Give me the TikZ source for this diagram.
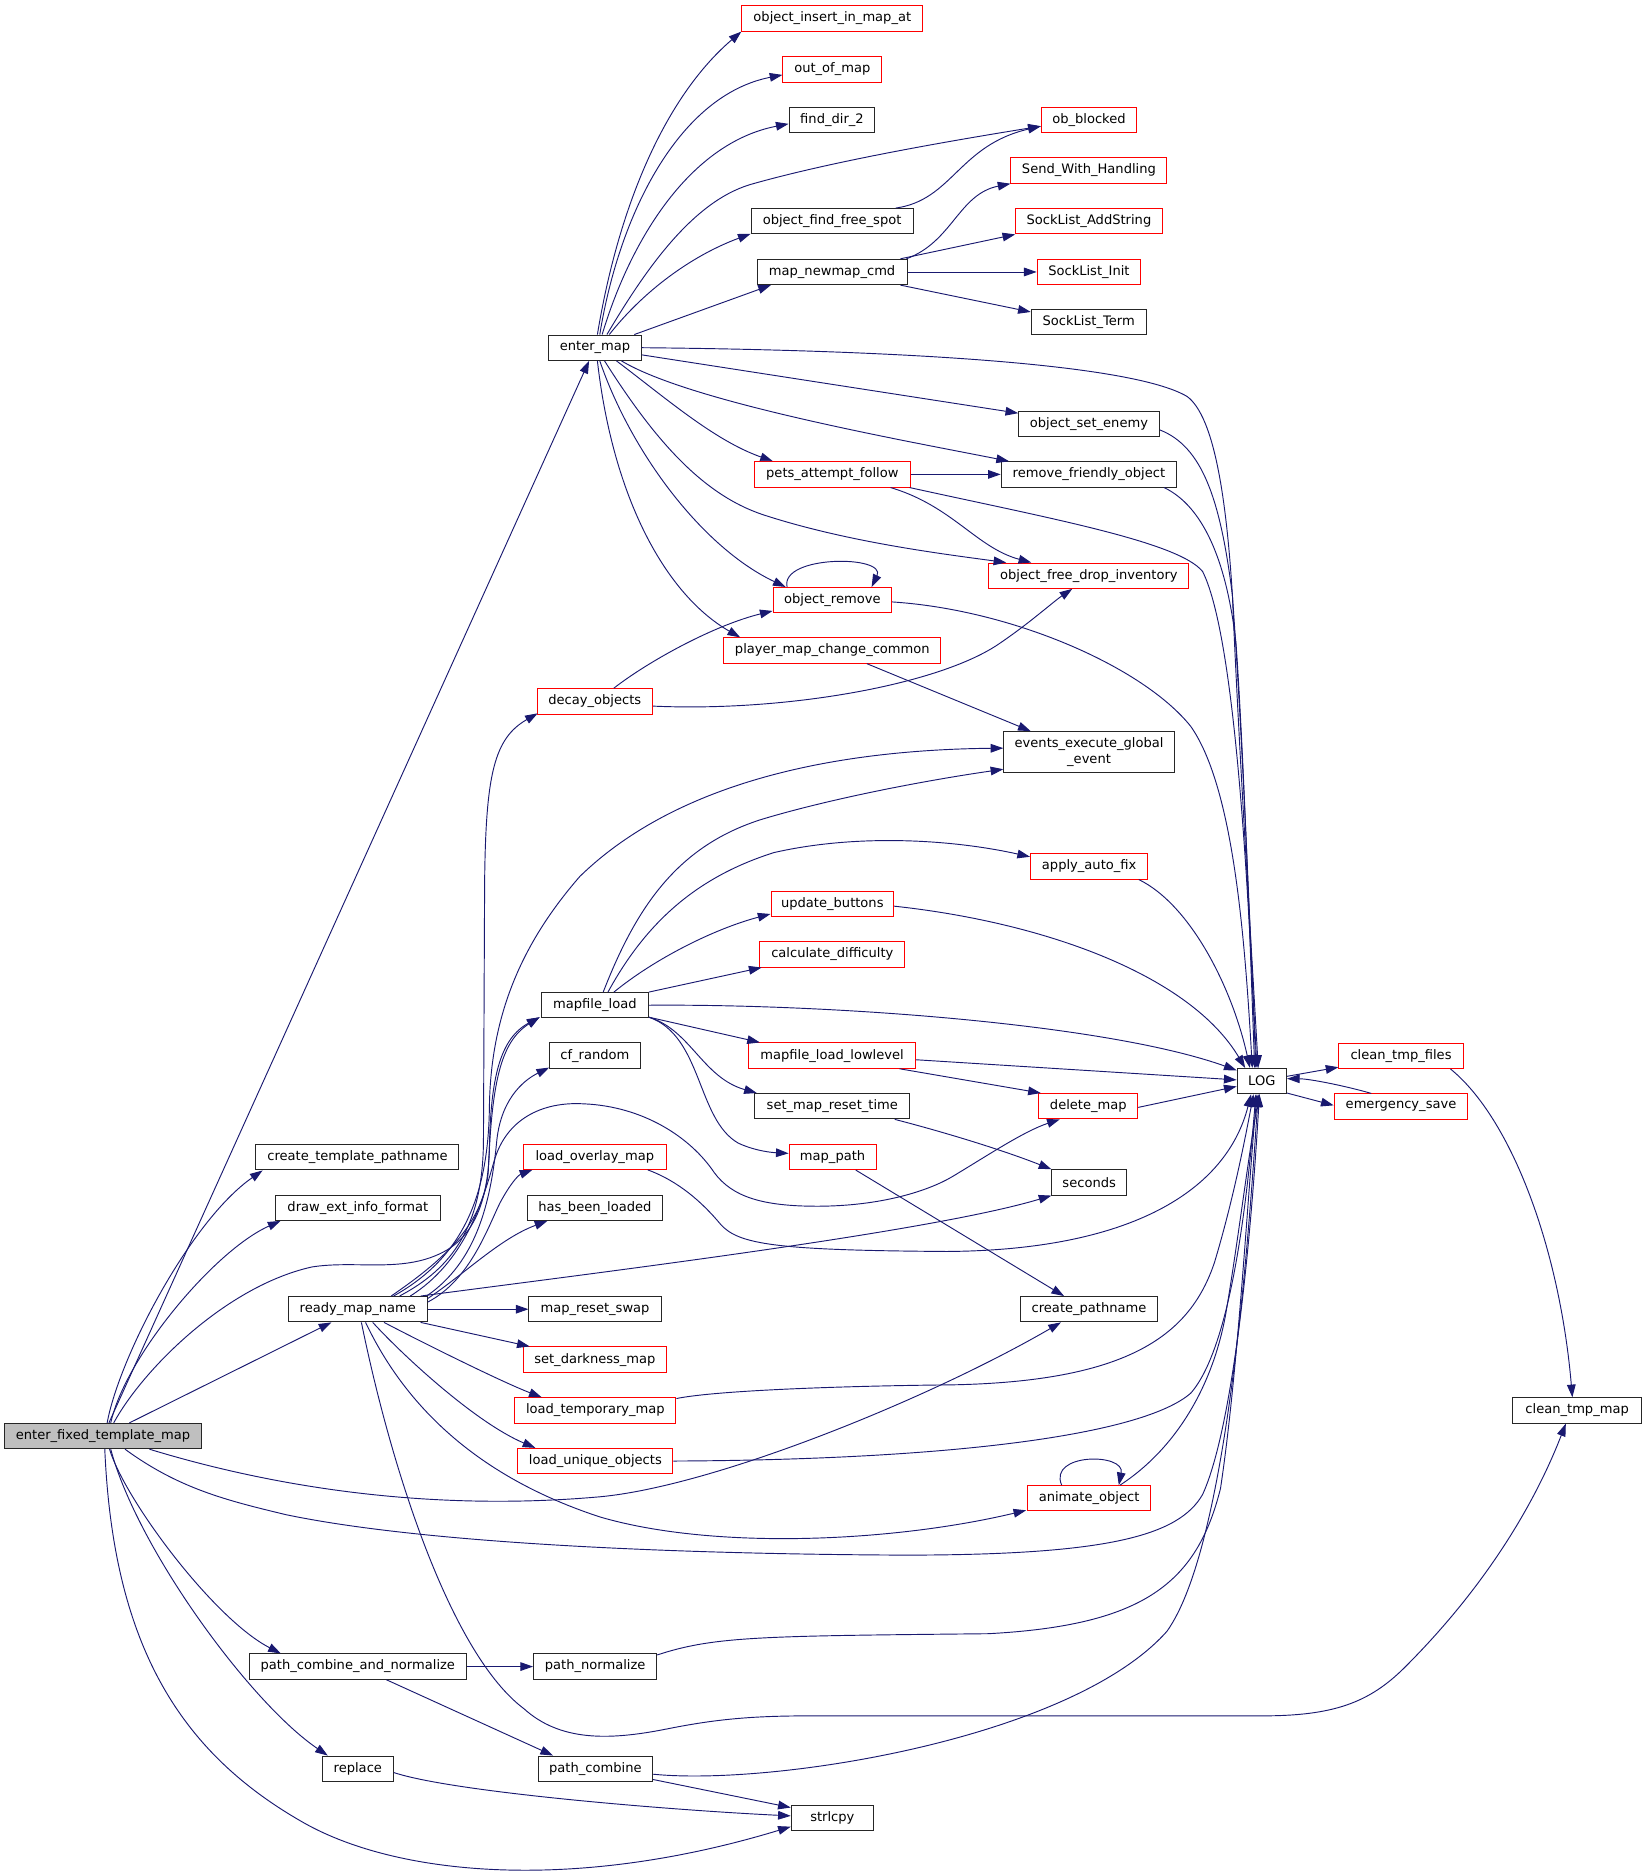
\documentclass[tikz,border=0pt]{standalone}
\usepackage{fontspec}
\setmainfont{DejaVu Sans}
\usetikzlibrary{arrows.meta,calc}
\definecolor{edgeblue}{HTML}{191970}
\definecolor{nodered}{HTML}{FF0000}
\definecolor{rootgray}{HTML}{BFBFBF}
\tikzset{
  fn/.style={draw=black!85, fill=white, line width=0.75pt, inner sep=0pt, minimum height=19pt, minimum width={#1*0.8931pt}, font=\fontsize{9.8}{11.5}\selectfont, align=center},
  fr/.style={fn=#1, draw=nodered},
  e/.style={draw=edgeblue, line width=0.7pt, -{Triangle[length=9.5pt,width=6.5pt]}},
}
\begin{document}
\begin{tikzpicture}[x=0.8931pt,y=-0.8931pt]
\fill[white] (0,0) rectangle (1384,1571.3);
\useasboundingbox (0,0) rectangle (1384,1571.3);
% nodes
\node[fr=152] (oiima) at (699,15.5) {object\_insert\_in\_map\_at};
\node[fr=83] (oom) at (699,58.4) {out\_of\_map};
\node[fn=72] (fd2) at (698.7,100.5) {find\_dir\_2};
\node[fr=80] (obb) at (914.5,100.5) {ob\_blocked};
\node[fr=131] (swh) at (914.5,143.2) {Send\_With\_Handling};
\node[fn=136] (offs) at (698.8,185.8) {object\_find\_free\_spot};
\node[fr=123] (sla) at (914.5,185.8) {SockList\_AddString};
\node[fn=126] (mnc) at (698.8,228.4) {map\_newmap\_cmd};
\node[fr=87] (sli) at (914.5,228.4) {SockList\_Init};
\node[fn=96.5] (slt) at (914.3,270.5) {SockList\_Term};
\node[fn=77.5] (em) at (499.7,292) {enter\_map};
\node[fn=118] (ose) at (914.5,356) {object\_set\_enemy};
\node[fr=131] (paf) at (699,398.4) {pets\_attempt\_follow};
\node[fn=147.4] (rfo) at (914.5,398.4) {remove\_friendly\_object};
\node[fr=168] (ofdi) at (914.5,483.5) {object\_free\_drop\_inventory};
\node[fr=99.5] (orem) at (699,504) {object\_remove};
\node[fr=182] (pmcc) at (699,546.3) {player\_map\_change\_common};
\node[fr=97] (dec) at (499.5,589) {decay\_objects};
\node[fn=143.2, minimum height=30.5pt] (eeg) at (914.6,631.5) {events\_execute\_global\\\_event};
\node[fr=98.5] (aaf) at (914.7,727.6) {apply\_auto\_fix};
\node[fr=103] (ub) at (699,759) {update\_buttons};
\node[fr=122] (cd) at (699,801.5) {calculate\_difficulty};
\node[fn=90] (mfl) at (499.6,844.2) {mapfile\_load};
\node[fn=76] (cfr) at (499.6,886.5) {cf\_random};
\node[fr=140.4] (mfll) at (698.8,886.5) {mapfile\_load\_lowlevel};
\node[fn=41.5] (log) at (1059.7,907.9) {LOG};
\node[fr=104.3] (ctf) at (1176.6,886.7) {clean\_tmp\_files};
\node[fr=112.3] (es) at (1176.6,929.3) {emergency\_save};
\node[fn=130] (smrt) at (699,929) {set\_map\_reset\_time};
\node[fr=83] (dm) at (914,929) {delete\_map};
\node[fn=170.5] (ctp) at (300.2,971.9) {create\_template\_pathname};
\node[fr=120] (lom) at (499.5,971.4) {load\_overlay\_map};
\node[fr=73] (mp) at (699.2,971.6) {map\_path};
\node[fn=62.6] (sec) at (914.7,993) {seconds};
\node[fn=139] (deif) at (300.5,1014.3) {draw\_ext\_info\_format};
\node[fn=113] (hbl) at (499.6,1014.3) {has\_been\_loaded};
\node[fn=116.6] (rmn) at (300.5,1099.5) {ready\_map\_name};
\node[fn=111] (mrs) at (499.7,1099.5) {map\_reset\_swap};
\node[fn=114.4] (cp) at (914.6,1099.5) {create\_pathname};
\node[fr=120.7] (sdm) at (499.6,1141.8) {set\_darkness\_map};
\node[fr=135.3] (ltm) at (500,1184.5) {load\_temporary\_map};
\node[fn=108] (ctm) at (1324.5,1184.5) {clean\_tmp\_map};
\node[fn=165, fill=rootgray] (e0) at (86.5,1206) {enter\_fixed\_template\_map};
\node[fr=130] (luo) at (500,1227) {load\_unique\_objects};
\node[fr=102.7] (ao) at (914.6,1258.3) {animate\_object};
\node[fn=182.6] (pcan) at (300.5,1399.6) {path\_combine\_and\_normalize};
\node[fn=103.5] (pn) at (499.8,1399.6) {path\_normalize};
\node[fn=59.6] (rep) at (300.5,1485.4) {replace};
\node[fn=96.2] (pc) at (500,1485.4) {path\_combine};
\node[fn=69] (strl) at (699,1527) {strlcpy};
% edges from enter_fixed_template_map
\draw[e] (e0) -- (em);
\draw[e] ($(e0.north)+(3.5,0)$) .. controls (100,1140) and (160,1025) .. ($(ctp.south west)+(6,0)$);
\draw[e] ($(e0.north)+(6.5,0)$) .. controls (105,1140) and (180,1050) .. ($(deif.south west)+(5,0)$);
\draw[e] (e0) -- (rmn);
\draw[e] ($(e0.north)+(9,0)$) .. controls (120,1150) and (190,1080) .. (262,1064) .. controls (300,1058) and (340,1070) .. (375,1050) .. controls (400,1035) and (410,1005) .. (411,965) .. controls (412,905) and (420,872) .. ($(mfl.south west)+(-1,-1)$);
\draw[e] ($(e0.south)+(5.5,0)$) .. controls (105,1260) and (180,1360) .. ($(pcan.north west)+(27,0)$);
\draw[e] ($(e0.south)+(6.5,0)$) .. controls (115,1300) and (210,1430) .. ($(rep.north west)+(5,0)$);
\draw[e] ($(e0.south)+(1.5,0)$) .. controls (95,1380) and (150,1470) .. (252,1529) .. controls (330,1575) and (480,1590) .. ($(strl.south west)+(0,-4)$);
\draw[e] ($(e0.south)+(18.5,0)$) .. controls (150,1250) and (190,1260) .. (240,1272) .. controls (350,1295) and (550,1305) .. (759,1306) .. controls (930,1306) and (990,1290) .. (1010,1255) .. controls (1035,1200) and (1050,1050) .. ($(log.south)+(-2,0)$);
\draw[e] ($(e0.south)+(39,0)$) .. controls (250,1255) and (380,1268) .. (504,1257) .. controls (600,1248) and (780,1175) .. ($(cp.south west)+(34,0)$);
% edges from ready_map_name
\draw[e] ($(rmn.north)+(28,0)$) .. controls (370,1060) and (405,1030) .. (410,985) .. controls (413,910) and (420,875) .. ($(mfl.south west)+(-1,-1)$);
\draw[e] ($(rmn.north)+(35,0)$) .. controls (380,1065) and (405,1030) .. (406,960) -- (407,740) .. controls (408,650) and (415,620) .. ($(dec.south west)+(1,-1)$);
\draw[e] ($(rmn.north)+(30,0)$) .. controls (385,1058) and (410,1010) .. (411,930) .. controls (412,850) and (440,790) .. (487,736) .. controls (560,665) and (680,630) .. ($(eeg.west)+(0,-3.2)$);
\draw[e] ($(rmn.north east)+(-1,0)$) .. controls (400,1060) and (412,1010) .. (417,960) .. controls (420,925) and (438,908) .. ($(cfr.south west)+(0,-1)$);
\draw[e] ($(rmn.east)+(0,-6)$) .. controls (395,1075) and (410,1030) .. (420,1010) .. controls (428,995) and (435,987) .. ($(lom.south west)+(8,0)$);
\draw[e] ($(rmn.east)+(0,-9)$) .. controls (390,1070) and (420,1040) .. ($(hbl.south west)+(17,0)$);
\draw[e] (rmn) -- (mrs);
\draw[e] ($(rmn.south east)+(-6,0)$) -- ($(sdm.north west)+(6,0)$);
\draw[e] ($(rmn.south)+(22,0)$) .. controls (350,1125) and (420,1160) .. ($(ltm.north west)+(23,0)$);
\draw[e] ($(rmn.south)+(12.5,0)$) .. controls (340,1140) and (400,1195) .. ($(luo.north west)+(15,0)$);
\draw[e] ($(rmn.south)+(6.5,0)$) .. controls (340,1180) and (400,1240) .. (504,1274) .. controls (600,1302) and (750,1295) .. ($(ao.south west)+(-1,-1)$);
\draw[e] ($(rmn.south)+(3,0)$) .. controls (330,1240) and (380,1390) .. (440,1435) .. controls (470,1462) and (510,1462) .. (560,1452) .. controls (600,1444) and (630,1441) .. (680,1441) -- (1060,1441) .. controls (1120,1441) and (1150,1430) .. (1180,1400) .. controls (1250,1330) and (1290,1260) .. ($(ctm.south)+(-9.5,0)$);
\draw[e] ($(rmn.north east)+(-6,0)$) .. controls (500,1069) and (780,1035) .. (sec.south west);
\draw[e] ($(rmn.north)+(44,0)$) .. controls (390,1060) and (405,1010) .. (415,975) .. controls (425,940) and (455,925) .. (490,927) .. controls (540,929) and (580,955) .. (600,985) .. controls (615,1005) and (640,1013) .. (686,1013) .. controls (740,1013) and (780,1000) .. (800,988) .. controls (830,970) and (860,950) .. ($(dm.south)+(-24,0)$);
% edges from mapfile_load
\draw[e] ($(mfl.north)+(7,0)$) .. controls (535,760) and (570,710) .. (640,688) .. controls (700,670) and (780,655) .. ($(eeg.west)+(0,14.5)$);
\draw[e] ($(mfl.north)+(11,0)$) .. controls (545,770) and (590,735) .. (650,716) .. controls (720,700) and (800,705) .. ($(aaf.north west)+(0,3)$);
\draw[e] ($(mfl.north)+(16,0)$) .. controls (550,805) and (600,780) .. ($(ub.south west)+(0,-2.5)$);
\draw[e] (mfl.north east) -- ($(cd.south west)+(2,0)$);
\draw[e] (mfl.east) .. controls (700,843) and (930,860) .. ($(log.north west)+(0,2)$);
\draw[e] ($(mfl.south east)+(0,-1)$) -- ($(mfll.north west)+(10,0)$);
\draw[e] ($(mfl.south east)+(0,-1)$) .. controls (580,865) and (590,905) .. ($(smrt.north west)+(2,0)$);
\draw[e] ($(mfl.south east)+(0,-1)$) .. controls (590,870) and (585,940) .. (620,960) .. controls (635,967) and (650,968) .. ($(mp.west)+(0,-3)$);
\draw[e] ($(mfll.east)+(0,3.5)$) -- ($(log.west)+(0,-1)$);
\draw[e] ($(mfll.south east)+(-14,0)$) -- ($(dm.north west)+(2,0)$);
\draw[e] ($(dm.east)+(0,1)$) -- ($(log.west)+(0,4.5)$);
\draw[e] ($(smrt.south east)+(-13,0)$) .. controls (790,950) and (840,965) .. (sec.north west);
\draw[e] ($(mp.south)+(19.5,0)$) -- ($(cp.north)+(-21,0)$);
\draw[e] ($(pmcc.south)+(29,0)$) -- ($(eeg.north west)+(23,0)$);
\draw[e] ($(dec.north)+(16,0)$) .. controls (545,555) and (600,525) .. ($(orem.south west)+(0,-2)$);
\draw[e] ($(dec.east)+(0,4)$) .. controls (660,598) and (790,575) .. (840,540) .. controls (865,523) and (885,505) .. ($(ofdi.south)+(-14,0)$);
% edges from enter_map
\draw[e] ($(em.north)+(2,0)$) .. controls (520,170) and (560,80) .. (oiima.south west);
\draw[e] ($(em.north)+(4,0)$) .. controls (520,180) and (570,80) .. ($(oom.west)+(0,4.5)$);
\draw[e] ($(em.north)+(6,0)$) .. controls (530,200) and (580,120) .. ($(fd2.west)+(0,3.5)$);
\draw[e] ($(em.north)+(10,0)$) .. controls (540,230) and (580,170) .. (630,155) .. controls (700,135) and (800,118) .. ($(obb.west)+(0,5.5)$);
\draw[e] ($(em.north)+(12,0)$) .. controls (540,245) and (580,215) .. ($(offs.south west)+(0,-0.5)$);
\draw[e] ($(em.north)+(33,0)$) -- ($(mnc.south west)+(12,0)$);
\draw[e] (em.east) .. controls (750,294) and (950,305) .. (997,333) .. controls (1020,350) and (1030,420) .. (1035,500) .. controls (1040,620) and (1050,780) .. ($(log.north)+(-3,0)$);
\draw[e] ($(em.east)+(0,6)$) -- ($(ose.west)+(0,-9)$);
\draw[e] ($(em.south east)+(-17,0)$) .. controls (580,338) and (760,370) .. ($(rfo.north west)+(7,0)$);
\draw[e] ($(em.south)+(18,0)$) .. controls (560,335) and (600,370) .. ($(paf.north west)+(16,0)$);
\draw[e] ($(em.south)+(8,0)$) .. controls (550,370) and (590,415) .. (640,432) .. controls (710,455) and (790,465) .. ($(ofdi.north west)+(15,0)$);
\draw[e] ($(em.south)+(4,0)$) .. controls (530,380) and (590,460) .. ($(orem.north west)+(11,0)$);
\draw[e] ($(em.south)+(2,0)$) .. controls (515,420) and (560,500) .. ($(pmcc.north west)+(14,0)$);
% upper right group
\draw[e] ($(offs.north east)+(-15,0)$) .. controls (800,168) and (805,122) .. ($(obb.west)+(0,5.5)$);
\draw[e] ($(mnc.north east)+(-1,0)$) .. controls (800,203) and (805,163) .. (swh.south west);
\draw[e] ($(mnc.north east)+(-6,0)$) -- (sla.south west);
\draw[e] (mnc) -- (sli);
\draw[e] ($(mnc.south east)+(-6,0)$) -- ($(slt.west)+(0,-8.5)$);
\draw[e] (paf) -- (rfo);
\draw[e] ($(paf.south east)+(-17,0)$) .. controls (800,425) and (820,460) .. ($(ofdi.north west)+(36,0)$);
\draw[e] ($(paf.south east)+(-1,0)$) .. controls (880,435) and (990,455) .. (1010,480) .. controls (1030,520) and (1045,650) .. ($(log.north)+(-5,0)$);
\draw[e] ($(ose.east)+(0,5)$) .. controls (1010,375) and (1025,420) .. (1035,500) .. controls (1045,640) and (1050,800) .. ($(log.north)+(-4,0)$);
\draw[e] ($(rfo.south east)+(-11,0)$) .. controls (1010,425) and (1030,470) .. (1038,540) .. controls (1045,640) and (1050,800) .. ($(log.north)+(-6,0)$);
\draw[e] ($(orem.north)+(-38,0)$) .. controls (655,466) and (745,466) .. ($(orem.north)+(33,0)$);
\draw[e] ($(orem.east)+(0,1.5)$) .. controls (850,512) and (960,560) .. (1000,610) .. controls (1035,660) and (1045,780) .. ($(log.north)+(-8,0)$);
\draw[e] ($(aaf.south east)+(-8,0)$) .. controls (1000,760) and (1035,830) .. ($(log.north)+(-10,0)$);
\draw[e] ($(ub.east)+(0,2)$) .. controls (880,775) and (1000,820) .. ($(log.north)+(-14,0)$);
% LOG group
\draw[e] ($(log.east)+(0,-4)$) -- ($(ctf.south west)+(0,-1.5)$);
\draw[e] ($(es.north)+(-25,0)$) .. controls (1130,912) and (1100,906) .. ($(log.east)+(0,-2)$);
\draw[e] ($(log.south east)+(0,-1)$) -- ($(es.west)+(0,-1)$);
\draw[e] ($(ctf.south east)+(-11,0)$) .. controls (1270,940) and (1310,1050) .. ($(ctm.north)+(-4,0)$);
% lower group
\draw[e] ($(lom.south east)+(-16,0)$) .. controls (570,992) and (590,1010) .. (605,1028) .. controls (620,1045) and (650,1050) .. (795,1051) .. controls (950,1050) and (1030,1000) .. ($(log.south)+(-9,0)$);
\draw[e] ($(ltm.east)+(0,-10)$) .. controls (600,1168) and (700,1164) .. (800,1163) .. controls (950,1160) and (1000,1120) .. (1020,1060) .. controls (1035,1010) and (1045,960) .. ($(log.south)+(-7,0)$);
\draw[e] (luo.east) .. controls (800,1226) and (960,1205) .. (1000,1170) .. controls (1035,1130) and (1048,1000) .. ($(log.south)+(-5,0)$);
\draw[e] ($(ao.north)+(-23,0)$) .. controls (880,1220) and (945,1220) .. ($(ao.north)+(25,0)$);
\draw[e] ($(ao.north)+(26,0)$) .. controls (990,1215) and (1020,1160) .. (1030,1100) .. controls (1040,1040) and (1050,960) .. ($(log.south)+(-2,0)$);
\draw[e] ($(pn.north east)+(0,1.3)$) .. controls (600,1374) and (640,1374) .. (830,1372) .. controls (960,1365) and (1005,1330) .. (1025,1250) .. controls (1040,1150) and (1048,1000) .. ($(log.south)+(-4,0)$);
\draw[e] ($(pc.east)+(0,4.6)$) .. controls (650,1500) and (900,1460) .. (980,1370) .. controls (1030,1300) and (1048,1050) .. ($(log.south)+(-3,0)$);
\draw[e] ($(pc.south east)+(0,-2)$) -- ($(strl.west)+(0,-9)$);
\draw[e] ($(rep.east)+(0,3.2)$) .. controls (380,1505) and (560,1520) .. ($(strl.west)+(0,-2)$);
\draw[e] (pcan) -- (pn);
\draw[e] ($(pcan.south)+(24,0)$) -- ($(pc.north west)+(13,0)$);
\end{tikzpicture}
\end{document}
